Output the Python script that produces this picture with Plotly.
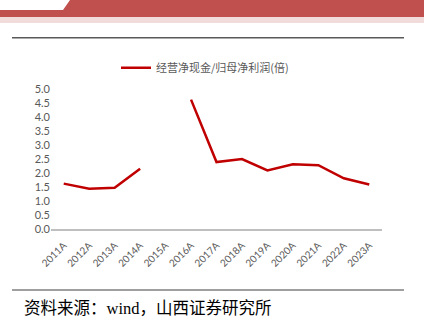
import plotly.graph_objects as go

categories = ["2011A", "2012A", "2013A", "2014A", "2015A", "2016A", "2017A",
              "2018A", "2019A", "2020A", "2021A", "2022A", "2023A"]
ratio = [1.62, 1.44, 1.47, 2.15, None, 4.62, 2.39, 2.50, 2.09, 2.31, 2.28, 1.81, 1.59]
series_name = "经营净现金/归母净利润(倍)"
y_ticks = [0.0, 0.5, 1.0, 1.5, 2.0, 2.5, 3.0, 3.5, 4.0, 4.5, 5.0]
source_text = "资料来源：wind，山西证券研究所"

W, H = 424, 325
L, R, T, B = 51, 42, 89, 96
PW, PH = W - L - R, H - T - B


def px(x):
    return (x - L) / PW


def py(y):
    return (H - B - y) / PH


fig = go.Figure()
fig.add_trace(go.Scatter(
    x=categories, y=ratio, mode="lines", name=series_name,
    line=dict(color="#C00000", width=2.5), connectgaps=False,
))

shapes = [
    dict(type="path", xref="paper", yref="paper",
         path=f"M {px(0)},{py(10)} L {px(63)},{py(10)} L {px(70)},{py(0)} L {px(424)},{py(0)} "
              f"L {px(424)},{py(17)} L {px(0)},{py(17)} Z",
         fillcolor="#C0504D", line=dict(width=0), layer="below"),
    dict(type="rect", xref="paper", yref="paper",
         x0=px(0), x1=px(424), y0=py(17), y1=py(23),
         fillcolor="#F2DCDB", line=dict(width=0), layer="below"),
    dict(type="line", xref="paper", yref="paper",
         x0=px(12), x1=px(404), y0=py(37.7), y1=py(37.7),
         line=dict(color="#595959", width=1.5)),
    dict(type="line", xref="paper", yref="paper",
         x0=px(12), x1=px(404), y0=py(290), y1=py(290),
         line=dict(color="#404040", width=1.2)),
]

fig.update_layout(
    width=W, height=H,
    margin=dict(l=L, r=R, t=T, b=B),
    paper_bgcolor="white", plot_bgcolor="white",
    showlegend=True,
    legend=dict(x=px(116), y=py(67.7), xanchor="left", yanchor="middle",
                orientation="h", font=dict(family="Noto Sans CJK SC", size=11, color="#595959"),
                bgcolor="rgba(0,0,0,0)"),
    shapes=shapes,
    annotations=[dict(text=source_text, xref="paper", yref="paper",
                      x=px(22), y=py(308), xanchor="left", yanchor="middle",
                      showarrow=False,
                      font=dict(family="Liberation Serif, Noto Sans CJK SC", size=16.5, color="black"))],
)
fig.update_xaxes(
    type="category", range=[-0.5, len(categories) - 0.5],
    showgrid=False, showline=True, linecolor="#BFBFBF", linewidth=1.5,
    ticks="", tickangle=-45, ticklabelstandoff=5,
    tickfont=dict(family="Lato", size=10, color="#595959"),
    zeroline=False, fixedrange=True,
)
fig.update_yaxes(
    range=[0, 5], tickvals=y_ticks, ticktext=[f"{v:.1f}" for v in y_ticks],
    showgrid=False, showline=False, zeroline=False, ticks="",
    tickfont=dict(family="Lato", size=11, color="#595959"), fixedrange=True,
)

fig.write_html("out.html")
